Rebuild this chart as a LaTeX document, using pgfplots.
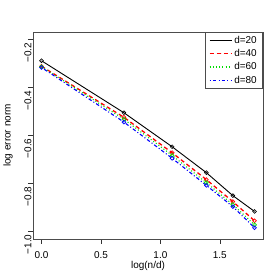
\documentclass[border=0pt]{standalone}
\usepackage{fontspec}
\setmainfont{Liberation Sans}
\usepackage{pgfplots}
\pgfplotsset{compat=1.18}
\definecolor{rgreen}{HTML}{00DD00}
\begin{document}
\begin{tikzpicture}[x=1bp,y=1bp]
\useasboundingbox (0,0) rectangle (280,280);
\begin{axis}[at={(33bp,41bp)}, anchor=south west, scale only axis,
  width=230bp, height=207bp,
  xmin=-0.0717, xmax=1.863, ymin=-1.032, ymax=-0.168,
  xtick={0,0.5,1,1.5}, xticklabels={0.0,0.5,1.0,1.5},
  ytick={-1,-0.8,-0.6,-0.4,-0.2}, yticklabels={−1.0,−0.8,−0.6,−0.4,−0.2},
  tick align=outside, tick pos=left, major tick length=5bp,
  every tick/.style={black!80, line width=0.5bp},
  axis line style={line width=0.6bp, black!70},
  font=\fontsize{10}{12}\selectfont,
  xticklabel style={anchor=center, yshift=-11bp, inner sep=0pt},
  yticklabel style={rotate=90, anchor=center, xshift=-13bp, inner sep=0pt},
  xlabel={log(n/d)}, ylabel={log error norm},
  xlabel style={at={(axis description cs:0.5,-0.130)}, anchor=center},
  ylabel style={at={(axis description cs:-0.109,0.5)}, anchor=center},
  legend cell align=left,
  legend style={at={(1,1)}, anchor=north east, draw=black!70, line width=0.6bp,
    font=\fontsize{10}{12}\selectfont, inner xsep=4bp, inner ysep=2bp,
    row sep=0.5bp, /tikz/every even column/.append style={column sep=4bp}},
  legend image code/.code={\draw[mark repeat=2, mark phase=2, #1] plot coordinates {(0bp,0bp) (11bp,0bp) (22bp,0bp)};},
  legend image post style={mark=none},
]
\addplot[draw=black, line width=0.9bp, mark=o, mark size=1.9bp, mark options={solid, line width=0.6bp}] coordinates {(0,-0.288) (0.6931,-0.505) (1.0986,-0.647) (1.3863,-0.755) (1.6094,-0.851) (1.7918,-0.917)};
\addlegendentry{d=20}
\addplot[draw=red, line width=1.3bp, dash pattern=on 4bp off 3bp, mark=o, mark size=1.9bp, mark options={solid, line width=0.7bp}] coordinates {(0,-0.311) (0.6931,-0.524) (1.0986,-0.672) (1.3863,-0.784) (1.6094,-0.876) (1.7918,-0.956)};
\addlegendentry{d=40}
\addplot[draw=rgreen, line width=1.1bp, dash pattern=on 1bp off 2.2bp, mark=o, mark size=1.9bp, mark options={solid, line width=0.7bp}] coordinates {(0,-0.313) (0.6931,-0.532) (1.0986,-0.683) (1.3863,-0.797) (1.6094,-0.888) (1.7918,-0.973)};
\addlegendentry{d=60}
\addplot[draw=blue, line width=1.1bp, dash pattern=on 1bp off 2.2bp on 3.5bp off 2.2bp, mark=o, mark size=1.9bp, mark options={solid, line width=0.7bp}] coordinates {(0,-0.316) (0.6931,-0.544) (1.0986,-0.695) (1.3863,-0.808) (1.6094,-0.897) (1.7918,-0.985)};
\addlegendentry{d=80}
\end{axis}
\end{tikzpicture}
\end{document}
